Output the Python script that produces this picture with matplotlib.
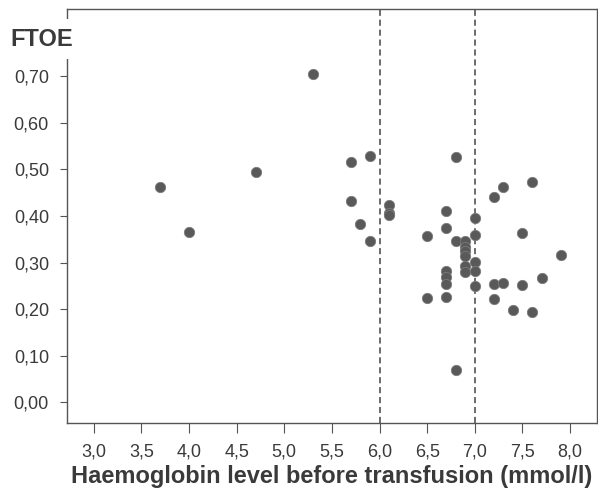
import matplotlib
matplotlib.use("Agg")
import matplotlib.pyplot as plt
from matplotlib.ticker import FuncFormatter

plt.rcParams['font.family'] = ['Liberation Sans', 'DejaVu Sans']

# haemoglobin before transfusion (mmol/l) and FTOE
hb = [3.7, 4.0, 4.7, 5.3, 5.7, 5.7, 5.8, 5.9, 5.9, 6.1, 6.1, 6.1,
      6.5, 6.5, 6.7, 6.7, 6.7, 6.7, 6.7, 6.7, 6.8, 6.8, 6.8,
      6.9, 6.9, 6.9, 6.9, 6.9, 6.9,
      7.0, 7.0, 7.0, 7.0, 7.0,
      7.2, 7.2, 7.2, 7.3, 7.3, 7.4, 7.5, 7.5, 7.6, 7.6, 7.7, 7.9]
ftoe = [0.463, 0.366, 0.495, 0.705, 0.515, 0.433, 0.383, 0.530, 0.347, 0.423, 0.406, 0.402,
        0.358, 0.224, 0.411, 0.375, 0.281, 0.268, 0.254, 0.226, 0.527, 0.347, 0.069,
        0.347, 0.333, 0.325, 0.315, 0.292, 0.280,
        0.396, 0.359, 0.301, 0.282, 0.249,
        0.440, 0.254, 0.222, 0.462, 0.257, 0.198, 0.363, 0.252, 0.474, 0.193, 0.267, 0.317]

thresholds = [6.0, 7.0]
xticks = [3.0, 3.5, 4.0, 4.5, 5.0, 5.5, 6.0, 6.5, 7.0, 7.5, 8.0]
yticks = [0.0, 0.1, 0.2, 0.3, 0.4, 0.5, 0.6, 0.7]

grey = '#555555'
txt = '#3a3a3a'

fig = plt.figure(figsize=(5.98, 4.9), dpi=100)
ax = fig.add_axes([0.112, 0.1367, 0.886, 0.845])

ax.scatter(hb, ftoe, s=55, color='#595959', edgecolors='#7a7a7a', linewidths=0.6, zorder=3)
for t in thresholds:
    ax.axvline(t, color='#444444', linestyle=(0, (4, 2.5)), linewidth=1.1, zorder=2)

ax.set_xlim(2.72, 8.28)
ax.set_ylim(-0.045, 0.845)
ax.set_xticks(xticks)
ax.set_yticks(yticks)
ax.xaxis.set_major_formatter(FuncFormatter(lambda v, p: f"{v:.1f}".replace('.', ',')))
ax.yaxis.set_major_formatter(FuncFormatter(lambda v, p: f"{v:.2f}".replace('.', ',')))

for s in ax.spines.values():
    s.set_color(grey)
    s.set_linewidth(1.0)
ax.tick_params(axis='both', direction='out', colors=grey, labelcolor=txt, labelsize=13)
ax.tick_params(axis='x', length=7, pad=8)
ax.tick_params(axis='y', length=5, pad=8)

ax.set_xlabel('Haemoglobin level before transfusion (mmol/l)', fontsize=17,
              fontweight='bold', color=txt, labelpad=3)

fig.text(10 / 598, 1 - 39 / 490, 'FTOE', fontsize=17, fontweight='bold', color=txt,
         ha='left', va='center',
         bbox=dict(facecolor='white', edgecolor='none', pad=6))

fig.savefig('out.png', dpi=100)
